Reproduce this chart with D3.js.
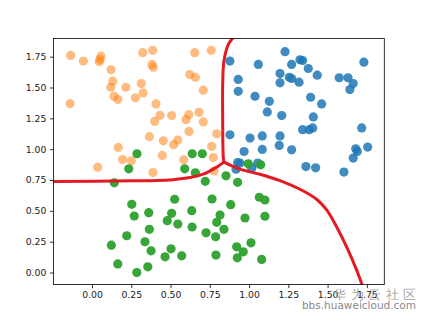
<!DOCTYPE html>
<html>
<head>
<meta charset="utf-8">
<script src="https://d3js.org/d3.v7.min.js"></script>
<style>
body{margin:0;background:#fff;}
.chart text{font-family:"DejaVu Sans",sans-serif;}
</style>
</head>
<body>
<svg class="chart"></svg>
<script>
// three classes of points, [x, y]
var blue=[[0.878,1.714],[0.931,1.565],[0.931,1.469],[0.878,1.117],[0.927,0.892],[1.229,1.790],[1.059,1.687],
[1.271,1.687],[1.324,1.725],[1.341,1.719],[1.377,1.654],[1.731,1.705],[1.197,1.613],[1.256,1.583],[1.271,1.573],
[1.197,1.538],[1.318,1.543],[1.434,1.600],[1.574,1.579],[1.630,1.579],[1.663,1.532],[1.642,1.483],[1.038,1.429],
[1.129,1.388],[1.392,1.421],[1.462,1.367],[1.116,1.302],[1.208,1.272],[1.409,1.261],[1.341,1.158],[1.383,1.158],
[1.405,1.172],[1.717,1.172],[1.006,1.090],[1.084,1.107],[1.197,1.107],[1.192,1.030],[1.084,0.998],[0.968,0.981],
[1.271,0.995],[1.679,1.003],[1.689,0.981],[1.755,1.017],[1.663,0.928],[1.362,0.859],[1.424,0.849],[1.604,0.814],
[0.942,0.887],[0.917,0.838],[1.017,0.846],[1.055,0.887]];

var orange=[[-0.136,1.760],[-0.055,1.714],[0.046,1.709],[0.057,1.754],[0.121,1.644],[0.132,1.551],[0.119,1.502],
[0.215,1.502],[0.314,1.532],[0.140,1.429],[0.165,1.402],[0.276,1.416],[0.325,1.456],[-0.140,1.369],[0.323,1.782],
[0.386,1.801],[0.390,1.665],[0.407,1.367],[0.654,1.782],[0.759,1.801],[0.622,1.605],[0.658,1.583],[0.708,1.478],
[0.433,1.274],[0.399,1.225],[0.507,1.272],[0.616,1.280],[0.598,1.239],[0.681,1.299],[0.708,1.221],[0.617,1.144],
[0.365,1.101],[0.454,1.068],[0.546,1.074],[0.520,1.036],[0.794,1.125],[0.167,1.014],[0.762,1.022],[0.195,0.916],
[0.250,0.906],[0.447,0.949],[0.584,0.914],[0.772,0.932],[0.036,0.854],[0.388,0.810],[0.777,0.824],[0.382,1.687],
[0.051,1.727]];

var green=[[0.286,0.963],[0.234,0.841],[0.638,0.963],[0.702,0.963],[0.590,0.841],[0.658,0.808],[0.142,0.727],
[0.721,0.739],[0.853,0.784],[0.927,0.731],[0.526,0.594],[0.764,0.596],[0.883,0.550],[0.253,0.553],[0.269,0.458],
[0.361,0.485],[0.507,0.480],[0.479,0.420],[0.546,0.393],[0.635,0.501],[0.815,0.466],[0.794,0.407],[0.840,0.350],
[0.365,0.350],[0.637,0.369],[0.726,0.322],[0.787,0.290],[0.221,0.298],[0.337,0.249],[0.376,0.176],[0.503,0.192],
[0.465,0.127],[0.571,0.135],[0.789,0.141],[0.921,0.208],[0.925,0.119],[0.123,0.222],[0.164,0.070],[0.285,0.000],
[0.355,0.046],[0.995,0.881],[1.074,0.873],[1.065,0.610],[1.101,0.588],[0.974,0.442],[1.101,0.456],[1.012,0.241],
[0.963,0.168],[1.080,0.106]];

// decision boundary pieces
var edgeTop=[[0.910,1.92],[0.868,1.849],[0.840,1.714],[0.832,1.524],[0.832,1.225],[0.836,0.928],[0.840,0.895]];
var edgeLeft=[[0.840,0.895],[0.783,0.846],[0.708,0.797],[0.624,0.770],[0.518,0.753],[0.412,0.745],[0.263,0.743],[-0.26,0.737]];
var edgeRight=[[0.840,0.895],[0.942,0.838],[1.069,0.797],[1.197,0.745],[1.324,0.675],[1.430,0.594],[1.494,0.507],
[1.557,0.371],[1.621,0.208],[1.685,0.019],[1.725,-0.12]];

var xTicks=[0,0.25,0.5,0.75,1,1.25,1.5,1.75];
var yTicks=[0,0.25,0.5,0.75,1,1.25,1.5,1.75];

var width=427,height=320;
var left=53.4,right=384.3,top_=38.4,bottom=284.6;

var svg=d3.select(".chart").attr("width",width).attr("height",height);

var x=d3.scaleLinear().domain([-0.246,1.861]).range([left,right]);
var y=d3.scaleLinear().domain([-0.098,1.898]).range([bottom,top_]);

svg.append("defs").append("clipPath").attr("id","plotclip")
   .append("rect").attr("x",left).attr("y",top_).attr("width",right-left).attr("height",bottom-top_);

var plot=svg.append("g").attr("clip-path","url(#plotclip)");

function drawDots(data,color,alpha){
	plot.append("g").selectAll("circle").data(data).enter()
		.append("circle")
		.attr("cx",function(d){return x(d[0]);})
		.attr("cy",function(d){return y(d[1]);})
		.attr("r",4.6)
		.attr("fill",color)
		.attr("fill-opacity",alpha);
}
drawDots(blue,"#1f77b4",0.85);
drawDots(orange,"#ff7f0e",0.52);
drawDots(green,"#2ca02c",0.95);

var line=d3.line().x(function(d){return x(d[0]);}).y(function(d){return y(d[1]);}).curve(d3.curveCatmullRom);
[edgeTop,edgeLeft,edgeRight].forEach(function(e){
	plot.append("path").attr("d",line(e))
		.attr("fill","none").attr("stroke","#e31a23").attr("stroke-width",3)
		.attr("stroke-linejoin","round");
});

var xAxis=svg.append("g").attr("transform","translate(0,"+bottom+")")
	.call(d3.axisBottom(x).tickValues(xTicks).tickFormat(d3.format(".2f")).tickSize(3.5).tickPadding(3.5));
var yAxis=svg.append("g").attr("transform","translate("+left+",0)")
	.call(d3.axisLeft(y).tickValues(yTicks).tickFormat(d3.format(".2f")).tickSize(3.5).tickPadding(3.5));
[xAxis,yAxis].forEach(function(a){
	a.select(".domain").remove();
	a.selectAll("line").attr("stroke","#000").attr("stroke-width",0.8);
	a.selectAll("text").attr("font-size","9.3px").attr("fill","#222").attr("font-family","DejaVu Sans");
});

svg.append("rect").attr("x",left).attr("y",top_).attr("width",right-left).attr("height",bottom-top_)
   .attr("fill","none").attr("stroke","#000").attr("stroke-width",0.8);

// watermark
svg.append("text").attr("x",333).attr("y",298.5)
   .attr("font-family","Noto Sans CJK SC").attr("font-size","13px").attr("letter-spacing","4.5px")
   .attr("fill","#9a9a9a").attr("fill-opacity",0.9).text("华为云社区");
svg.append("text").attr("x",416).attr("y",309).attr("text-anchor","end")
   .attr("font-family","Liberation Sans").attr("font-size","10.5px")
   .attr("fill","#8a8a8a").text("bbs.huaweicloud.com");
</script>
</body>
</html>
